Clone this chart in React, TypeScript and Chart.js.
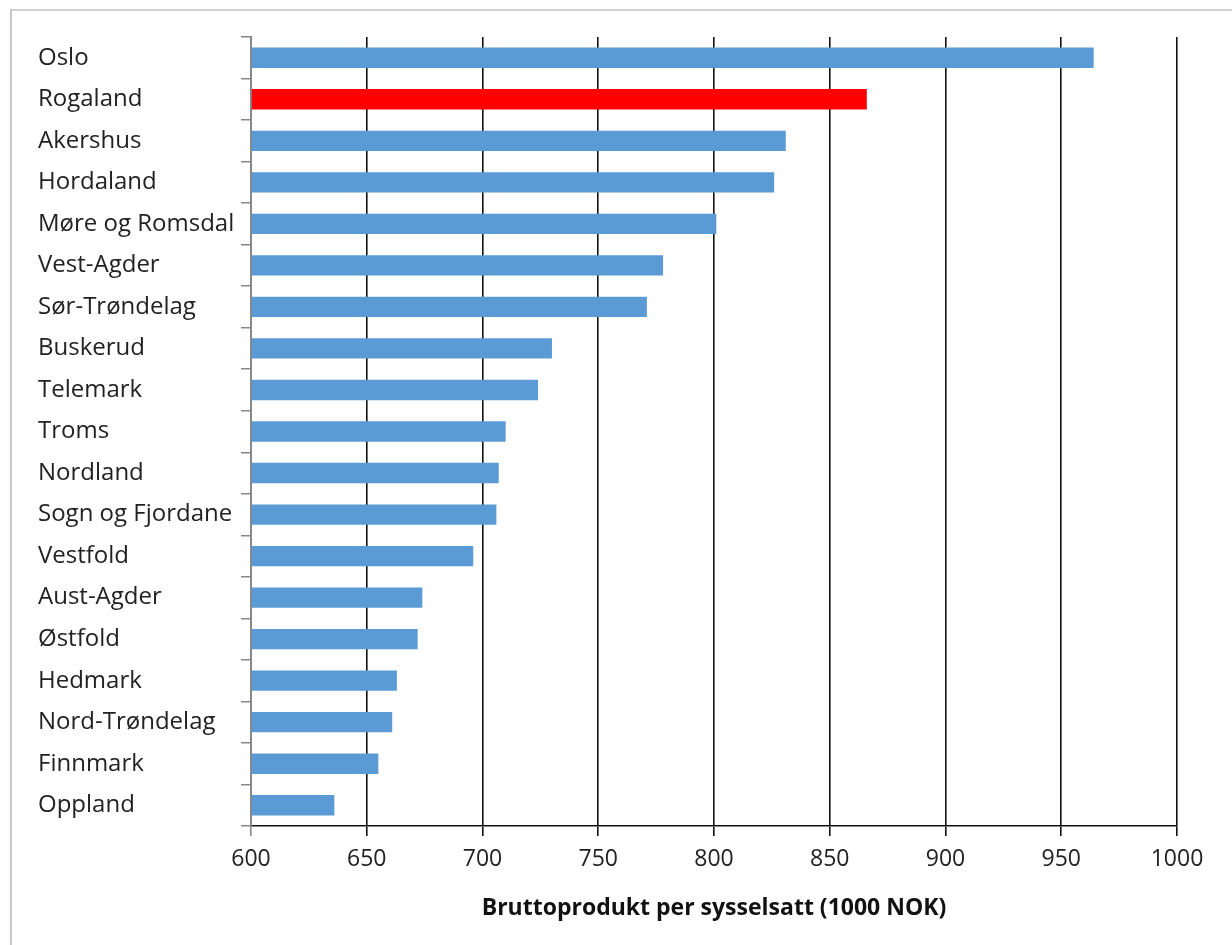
import React, { useEffect, useRef } from "react";
import { Chart, registerables } from "chart.js";

Chart.register(...registerables);

const categories = [
  "Oslo",
  "Rogaland",
  "Akershus",
  "Hordaland",
  "Møre og Romsdal",
  "Vest-Agder",
  "Sør-Trøndelag",
  "Buskerud",
  "Telemark",
  "Troms",
  "Nordland",
  "Sogn og Fjordane",
  "Vestfold",
  "Aust-Agder",
  "Østfold",
  "Hedmark",
  "Nord-Trøndelag",
  "Finnmark",
  "Oppland",
];

const values = [964, 866, 831, 826, 801, 778, 771, 730, 724, 710, 707, 706, 696, 674, 672, 663, 661, 655, 636];

const highlighted = ["Rogaland"];

const xMin = 600;
const xMax = 1000;
const xStep = 50;

const axisTitle = "Bruttoprodukt per sysselsatt (1000 NOK)";

const BLUE = "#5b9bd5";
const RED = "#ff0000";
const FONT = "'Open Sans', sans-serif";

export default function App() {
  const ref = useRef<HTMLCanvasElement | null>(null);

  useEffect(() => {
    if (!ref.current) return;
    const chart = new Chart(ref.current, {
      type: "bar",
      data: {
        labels: categories,
        datasets: [
          {
            data: values,
            base: xMin,
            backgroundColor: categories.map((c) => (highlighted.includes(c) ? RED : BLUE)),
            borderWidth: 0,
            barPercentage: 0.49,
            categoryPercentage: 1,
          } as any,
        ],
      },
      options: {
        indexAxis: "y",
        responsive: false,
        animation: false,
        layout: { padding: { left: 38, top: 37, right: 55, bottom: 0 } },
        plugins: {
          legend: { display: false },
          tooltip: { enabled: false },
        },
        scales: {
          x: {
            type: "linear",
            min: xMin,
            max: xMax,
            ticks: {
              stepSize: xStep,
              color: "#222",
              font: { family: FONT, size: 23 },
              padding: 10,
              maxRotation: 0,
              callback: (v: any) => String(v),
            },
            grid: {
              color: (ctx: any) => (ctx.tick && ctx.tick.value === xMin ? "#888" : "#111"),
              lineWidth: 1.6,
              tickLength: 10,
              drawTicks: true,
            },
            border: { display: true, color: "#111", width: 1.6 },
            title: {
              display: true,
              text: axisTitle,
              color: "#111",
              font: { family: FONT, size: 23, weight: "bold" },
              padding: { top: 0, bottom: 23 },
            },
            afterFit: (scale: any) => {
              scale.height = 119;
            },
          },
          y: {
            type: "category",
            offset: true,
            ticks: {
              crossAlign: "far",
              color: "#222",
              font: { family: FONT, size: 24 },
            },
            grid: {
              offset: true,
              drawOnChartArea: false,
              drawTicks: true,
              tickLength: 10,
              color: "#888",
              lineWidth: 1.5,
            },
            border: { display: true, color: "#888", width: 2 },
            afterFit: (scale: any) => {
              scale.width = 213;
            },
          },
        },
      },
    });
    return () => chart.destroy();
  }, []);

  return (
    <div style={{ position: "absolute", left: 0, top: 0, width: 1232, height: 945, background: "#fff", overflow: "hidden" }}>
      <div
        style={{
          position: "absolute",
          left: 10,
          top: 9,
          width: 1300,
          height: 1000,
          borderLeft: "2px solid #c8c8c8",
          borderTop: "2px solid #d0d0d0",
          boxSizing: "border-box",
        }}
      />
      <canvas ref={ref} width={1232} height={945} style={{ position: "absolute", left: 0, top: 0 }} />
    </div>
  );
}
